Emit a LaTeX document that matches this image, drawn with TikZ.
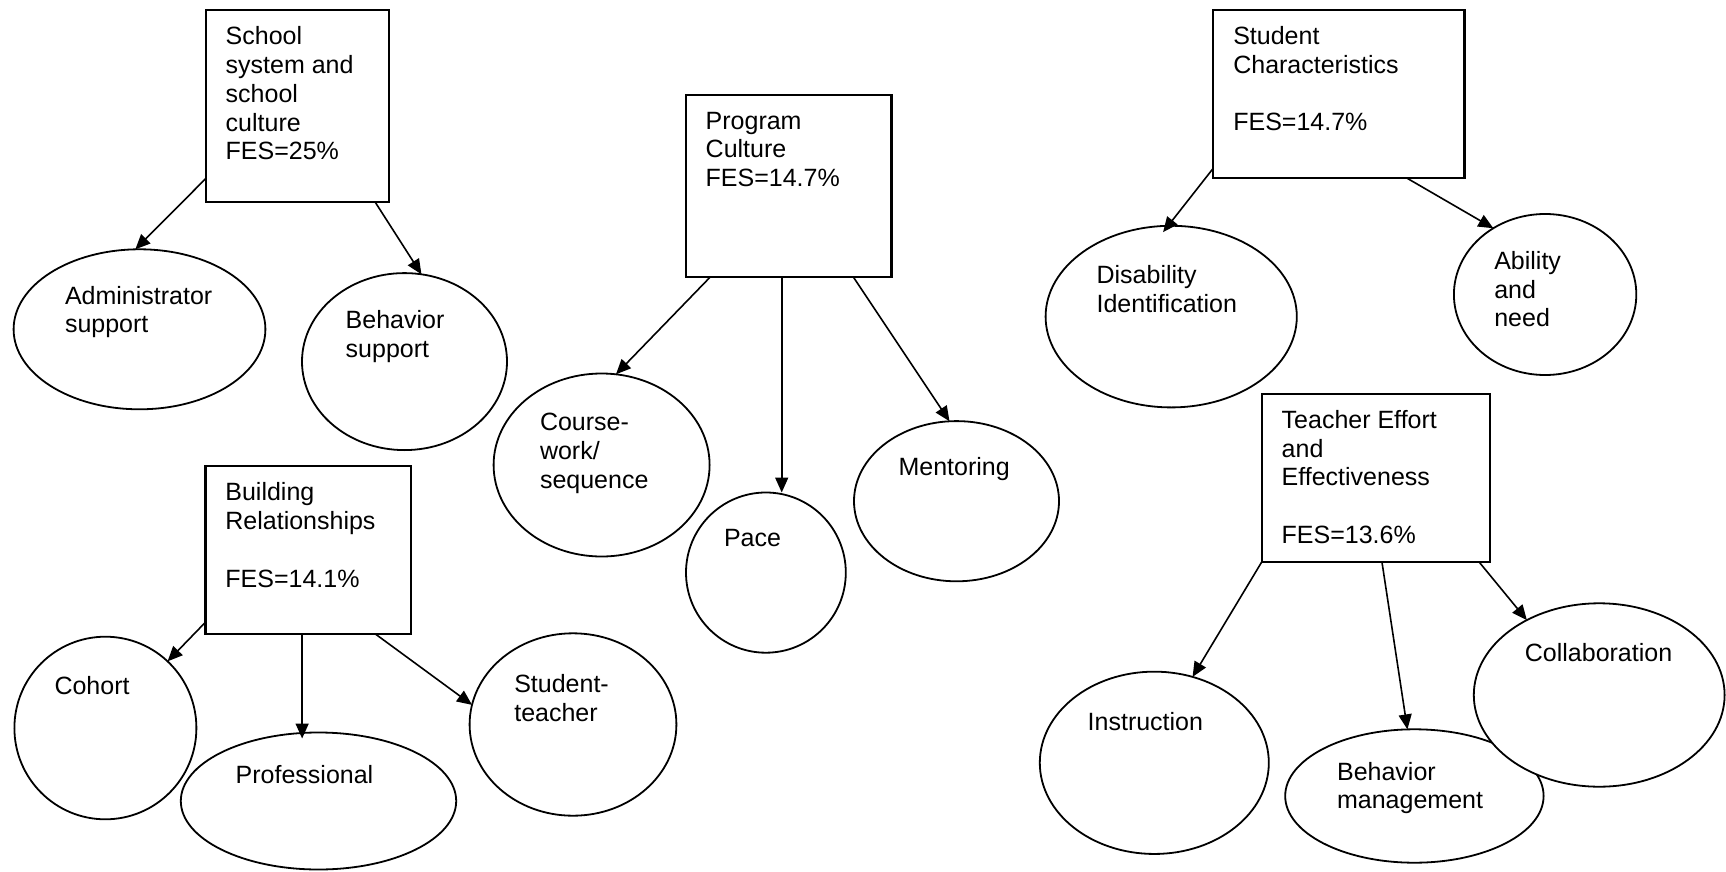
\documentclass[tikz,border=0pt]{standalone}
\usepackage{fontspec}
\setmainfont{Liberation Sans}
\usetikzlibrary{shapes.geometric,arrows.meta,calc}
\tikzset{
  box/.style={draw, line width=2.2pt, rectangle, inner sep=0pt, outer sep=0pt},
  oval/.style={draw, fill=white, line width=1.8pt, ellipse, inner sep=0pt, outer sep=0pt},
  lbl/.style={anchor=base west, inner sep=0pt, outer sep=0pt},
  arr/.style={line width=1.6pt, -{Triangle[length=15pt,width=13pt]}},
}
\newcommand{\mylines}[1]{\begin{tabular}[t]{@{}l@{}}#1\end{tabular}}
\begin{document}
\begin{tikzpicture}[x=1pt,y=-1pt, font=\fontsize{25}{28.8}\selectfont]
\useasboundingbox (0,0) rectangle (1726,872);
% boxes
\node[box, minimum width=182.6pt, minimum height=191.7pt] (sch) at (297.3,105.85) {};
\node[box, minimum width=205.4pt, minimum height=182pt] (pg) at (788.7,185.8) {};
\node[box, minimum width=251.2pt, minimum height=168.3pt] (stu) at (1338.9,94.15) {};
\node[box, minimum width=205.8pt, minimum height=168pt] (bld) at (308.3,549.7) {};
\node[box, minimum width=228.6pt, minimum height=168pt] (tea) at (1376,478) {};
% ellipses
\node[oval, minimum width=251.8pt, minimum height=160pt] (adm) at (139.5,329.3) {};
\node[oval, minimum width=205pt, minimum height=177pt] (beh) at (404.5,361.6) {};
\node[oval, minimum width=216pt, minimum height=183pt] (cou) at (601.6,465) {};
\node[oval, minimum width=159.8pt, minimum height=160.2pt] (pace) at (765.9,572.6) {};
\node[oval, minimum width=205pt, minimum height=160.2pt] (men) at (956.5,501.2) {};
\node[oval, minimum width=251.2pt, minimum height=181.6pt] (dis) at (1171.2,316.6) {};
\node[oval, minimum width=182.4pt, minimum height=161pt] (abi) at (1545.1,294.5) {};
\node[oval, minimum width=182pt, minimum height=182.6pt] (coh) at (105.4,728) {};
\node[oval, minimum width=275.4pt, minimum height=137pt] (pro) at (318.5,801) {};
\node[oval, minimum width=206.8pt, minimum height=182.4pt] (st) at (573,724.5) {};
\node[oval, minimum width=229pt, minimum height=182.3pt] (ins) at (1154.3,762.8) {};
\node[oval, minimum width=258.4pt, minimum height=133.4pt] (bm) at (1414.4,796) {};
\node[oval, minimum width=250.8pt, minimum height=183.4pt] (col) at (1599.2,695) {};
% texts
\node[lbl] (tsch) at (225.7,44.7) {\mylines{School\\system and\\school\\culture\\FES=25\%}};
\node[lbl] (tadm) at (65,304) {\mylines{Administrator\\support}};
\node[lbl] (tbeh) at (345.7,328.3) {\mylines{Behavior\\support}};
\node[lbl] (tpg) at (705.7,129.2) {\mylines{Program\\Culture\\FES=14.7\%}};
\node[lbl] (tcou) at (540,430.7) {\mylines{Course-\\work/\\sequence}};
\node[lbl] (tpace) at (724,546.9) {Pace};
\node[lbl] (tmen) at (898.6,475.1) {Mentoring};
\node[lbl] (tstu) at (1233.3,44.3) {\mylines{Student\\Characteristics\\ \\FES=14.7\%}};
\node[lbl] (tdis) at (1096.6,283.3) {\mylines{Disability\\Identification}};
\node[lbl] (tabi) at (1494.3,269.3) {\mylines{Ability\\and\\need}};
\node[lbl] (tbld) at (225.4,500.7) {\mylines{Building\\Relationships\\ \\FES=14.1\%}};
\node[lbl] (tcoh) at (54.5,694) {Cohort};
\node[lbl] (tpro) at (235.7,783.3) {Professional};
\node[lbl] (tst) at (514.3,692.3) {\mylines{Student-\\teacher}};
\node[lbl] (ttea) at (1281.7,428.3) {\mylines{Teacher Effort\\and\\Effectiveness\\ \\FES=13.6\%}};
\node[lbl] (tins) at (1087.7,730) {Instruction};
\node[lbl] (tbm) at (1337.1,780) {\mylines{Behavior\\management}};
\node[lbl] (tcol) at (1524.9,661.7) {Collaboration};
% arrows
\draw[arr] ($(sch.north west)!0.878!(sch.south west)$) -- (adm.93.2);
\draw[arr] ($(sch.south west)!0.925!(sch.south east)$) -- (beh.79.2);
\draw[arr] ($(pg.south west)!0.119!(pg.south east)$) -- (cou.81.4);
\draw[arr] ($(pg.south west)!0.466!(pg.south east)$) coordinate (pgm) -- (pgm |- pace.north);
\draw[arr] ($(pg.south west)!0.814!(pg.south east)$) -- (men.95.9);
\draw[arr, shorten >=-8pt] ($(stu.north west)!0.94!(stu.south west)$) -- (dis.92.6);
\draw[arr] ($(stu.south west)!0.772!(stu.south east)$) -- (abi.128.7);
\draw[arr] ($(bld.north west)!0.932!(bld.south west)$) -- (coh.47);
\draw[arr, shorten >=-6pt] ($(bld.south west)!0.47!(bld.south east)$) coordinate (bldm) -- (bldm |- pro.north);
\draw[arr] ($(bld.south west)!0.824!(bld.south east)$) -- (st.169.9);
\draw[arr] (tea.south west) -- (ins.66.3);
\draw[arr] ($(tea.south west)!0.526!(tea.south east)$) -- (bm.96.7);
\draw[arr] ($(tea.south west)!0.951!(tea.south east)$) -- (col.134.9);
\end{tikzpicture}
\end{document}
